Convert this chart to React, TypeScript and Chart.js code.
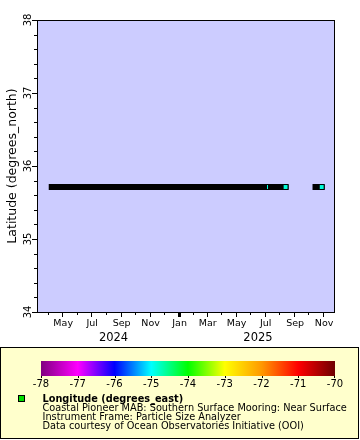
import { useEffect, useRef } from 'react';
import { Chart, registerables } from 'chart.js';
Chart.register(...registerables);

// ---- data ----
const latitude = 35.712;
const runStarts = ['2024-04-09', '2025-10-16'];
const runEnds = ['2025-08-14', '2025-10-29'];
const cyanDates = ['2025-08-14', '2025-10-29'];
const sliverDates = ['2025-07-07'];
const markerColor = '#00FFD9';
const xRange = ['2024-03-09', '2025-11-26'];
const yMin = 34;
const yMax = 38;
const yTicks = [34, 35, 36, 37, 38];
const yMinorStep = 0.2;
const monthTicks = [
  '2024-04', '2024-05', '2024-06', '2024-07', '2024-08', '2024-09', '2024-10', '2024-11', '2024-12',
  '2025-01', '2025-02', '2025-03', '2025-04', '2025-05', '2025-06', '2025-07', '2025-08', '2025-09',
  '2025-10', '2025-11',
];
const labelledMonths = ['2024-05', '2024-07', '2024-09', '2024-11', '2025-01', '2025-03', '2025-05', '2025-07', '2025-09', '2025-11'];
const monthNames = ['Jan', 'Feb', 'Mar', 'Apr', 'May', 'Jun', 'Jul', 'Aug', 'Sep', 'Oct', 'Nov', 'Dec'];
const yearLabels = ['2024', '2025'];
const yearAnchors = ['2024-08-17', '2025-06-17'];
const colorbarTicks = [-78, -77, -76, -75, -74, -73, -72, -71, -70];
const colorbarColors = ['#800080', '#FF00FF', '#0000FF', '#00FFFF', '#00FF00', '#FFFF00', '#FF9900', '#FF0000', '#6E0000'];
const yTitle = 'Latitude (degrees_north)';
const legendTitle = 'Longitude (degrees_east)';
const legendLines = [
  'Coastal Pioneer MAB: Southern Surface Mooring: Near Surface',
  'Instrument Frame: Particle Size Analyzer',
  'Data courtesy of Ocean Observatories Initiative (OOI)',
];

const EPOCH = Date.UTC(2024, 0, 1);
const day = (s: string) => {
  const p = s.split('-').map(Number);
  return (Date.UTC(p[0], p[1] - 1, p[2] || 1) - EPOCH) / 86400000;
};

const FONT = "'DejaVu Sans', 'Bitstream Vera Sans', sans-serif";

const decorPlugin = {
  id: 'decor',
  beforeDraw(chart: any) {
    const { ctx, chartArea: a } = chart;
    ctx.save();
    ctx.fillStyle = '#ffffff';
    ctx.fillRect(0, 0, chart.width, chart.height);
    ctx.fillStyle = '#CCCCFF';
    ctx.fillRect(a.left, a.top, a.right - a.left, a.bottom - a.top);
    ctx.restore();
  },
  afterDraw(chart: any) {
    const { ctx, chartArea: a } = chart;
    const xs = chart.scales.x;
    const ys = chart.scales.y;
    ctx.save();
    // frame
    ctx.strokeStyle = '#000';
    ctx.lineWidth = 1;
    ctx.strokeRect(a.left + 0.5, a.top + 0.5, a.right - a.left - 1, a.bottom - a.top);

    // y ticks
    ctx.beginPath();
    for (let v = yMin; v <= yMax + 1e-6; v += yMinorStep) {
      const y = Math.round(ys.getPixelForValue(v)) + 0.5;
      const major = Math.abs(v - Math.round(v)) < 1e-6;
      ctx.moveTo(a.left, y);
      ctx.lineTo(a.left - (major ? 5 : 3), y);
    }
    ctx.stroke();
    ctx.fillStyle = '#000';
    ctx.font = `10px ${FONT}`;
    ctx.textAlign = 'center';
    ctx.textBaseline = 'middle';
    yTicks.forEach((v) => {
      const y = ys.getPixelForValue(v);
      ctx.save();
      ctx.translate(28.5, y);
      ctx.rotate(-Math.PI / 2);
      ctx.fillText(String(v), 0, 0);
      ctx.restore();
    });
    // y title
    ctx.save();
    ctx.font = `12.5px ${FONT}`;
    ctx.translate(13, (a.top + a.bottom) / 2);
    ctx.rotate(-Math.PI / 2);
    ctx.fillText(yTitle, 0, 0);
    ctx.restore();

    // x ticks
    monthTicks.forEach((m) => {
      const x = Math.round(xs.getPixelForValue(day(m)));
      const major = labelledMonths.includes(m);
      const isJan = m.endsWith('-01');
      if (isJan) {
        ctx.fillRect(x - 1, a.bottom, 3, 5);
      } else {
        ctx.fillRect(x, a.bottom, 1, major ? 5 : 3);
      }
    });
    ctx.font = `9.5px ${FONT}`;
    ctx.textBaseline = 'middle';
    labelledMonths.forEach((m) => {
      const x = xs.getPixelForValue(day(m));
      const mi = Number(m.split('-')[1]) - 1;
      ctx.fillText(monthNames[mi], x + 1, a.bottom + 12);
    });
    ctx.font = `11.5px ${FONT}`;
    yearLabels.forEach((lab, i) => {
      const x = xs.getPixelForValue(day(yearAnchors[i]));
      ctx.fillText(lab, x, a.bottom + 26);
    });

    // legend box
    ctx.fillStyle = '#FFFFCC';
    ctx.fillRect(0, 348, 359, 91);
    ctx.strokeStyle = '#000';
    ctx.strokeRect(0.5, 347.5, 358, 91);

    // colorbar
    const cbL = 41, cbR = 335, cbT = 361, cbB = 376;
    const g = ctx.createLinearGradient(cbL, 0, cbR, 0);
    colorbarColors.forEach((c, i) => g.addColorStop(i / (colorbarColors.length - 1), c));
    ctx.fillStyle = g;
    ctx.fillRect(cbL, cbT, cbR - cbL, cbB - cbT);
    ctx.fillStyle = '#000';
    ctx.font = `10px ${FONT}`;
    ctx.textAlign = 'center';
    colorbarTicks.forEach((v, i) => {
      const x = cbL + ((cbR - cbL) * i) / (colorbarTicks.length - 1);
      ctx.fillRect(Math.round(x) - (i === colorbarTicks.length - 1 ? 1 : 0), cbB, 1, 2);
      ctx.fillText('-' + Math.abs(v), x, 384.5);
    });

    // legend marker + text
    ctx.fillStyle = '#00DD00';
    ctx.fillRect(19, 396, 5, 5);
    ctx.strokeRect(18.5, 395.5, 6, 6);
    ctx.fillStyle = '#000';
    ctx.textAlign = 'left';
    ctx.font = `bold 9.75px ${FONT}`;
    ctx.fillText(legendTitle, 42.5, 399);
    ctx.font = `9.75px ${FONT}`;
    legendLines.forEach((t, i) => ctx.fillText(t, 42.5, 408.5 + i * 9.2));
    ctx.restore();
  },
};

export default function App() {
  const ref = useRef<HTMLCanvasElement>(null);
  useEffect(() => {
    if (!ref.current) return;
    const runSets = runStarts.map((s, i) => ({
      data: [
        { x: day(s), y: latitude },
        { x: day(runEnds[i]), y: latitude },
      ],
      borderColor: '#000',
      borderWidth: 6,
      borderCapStyle: 'square' as const,
      pointRadius: 0,
      showLine: true,
      order: 3,
    }));
    const chart = new Chart(ref.current, {
      type: 'line',
      data: {
        datasets: [
          ...runSets,
          {
            data: sliverDates.map((d) => ({ x: day(d), y: latitude })),
            showLine: false,
            pointStyle: 'line',
            rotation: 90,
            pointRadius: 2,
            borderColor: markerColor,
            borderWidth: 1,
            order: 2,
          },
          {
            data: cyanDates.map((d) => ({ x: day(d), y: latitude })),
            showLine: false,
            pointStyle: 'rect',
            pointRadius: 3.5,
            backgroundColor: markerColor,
            borderColor: '#000',
            borderWidth: 1,
            order: 1,
          },
        ],
      },
      options: {
        animation: false,
        responsive: false,
        devicePixelRatio: 1,
        events: [],
        layout: { padding: { left: 0, top: 20, right: 25, bottom: 92 } },
        plugins: { legend: { display: false }, tooltip: { enabled: false } },
        scales: {
          x: {
            type: 'linear',
            min: day(xRange[0]),
            max: day(xRange[1]),
            grid: { display: false },
            border: { display: false },
            ticks: { display: false },
            afterFit: (s: any) => { s.height = 36; },
          },
          y: {
            type: 'linear',
            min: yMin,
            max: yMax,
            grid: { display: false },
            border: { display: false },
            ticks: { display: false, stepSize: 1 },
            afterFit: (s: any) => { s.width = 37; },
          },
        },
      },
      plugins: [decorPlugin],
    });
    return () => chart.destroy();
  }, []);
  return (
    <div style={{ position: 'fixed', left: 0, top: 0, width: 360, height: 440 }}>
      <canvas ref={ref} width={360} height={440} style={{ display: 'block' }} />
    </div>
  );
}
